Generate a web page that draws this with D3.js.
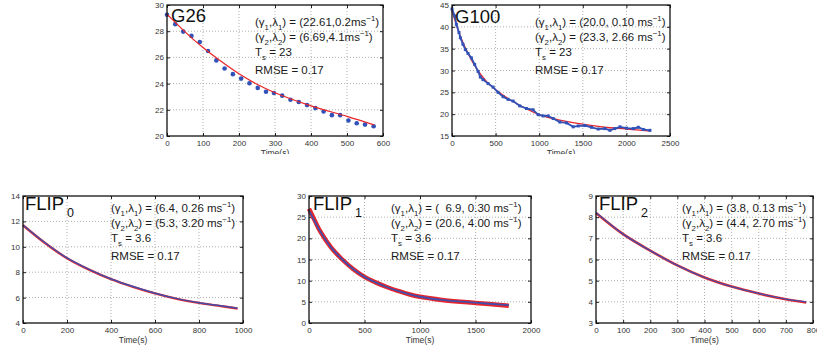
<!DOCTYPE html>
<html>
<head>
<meta charset="utf-8">
<script src="https://cdn.jsdelivr.net/npm/d3@7"></script>
<style>
  body { margin: 0; background: #fff; }
  svg text { font-family: "Liberation Sans", Arial, Helvetica, sans-serif; }
</style>
</head>
<body>
<svg id="chart" width="817" height="346"></svg>
<script>
// ---- data ----
const g26Time = [0, 23, 45, 68, 91, 114, 137, 160, 183, 206, 229, 252, 275, 297, 320, 343, 366, 389, 412, 435, 458, 481, 504, 527, 550, 574];
const g26Temp = [29.26, 28.54, 27.97, 27.64, 27.18, 26.49, 25.77, 25.15, 24.72, 24.38, 24.03, 23.67, 23.38, 23.28, 23.08, 22.77, 22.59, 22.36, 22.13, 21.87, 21.59, 21.59, 21.18, 20.97, 20.87, 20.74];
const g26FitTime = [0, 50, 100, 150, 200, 250, 300, 400, 500, 575];
const g26FitTemp = [29.3, 27.95, 26.75, 25.7, 24.75, 23.95, 23.3, 22.3, 21.5, 20.85];

const g100Time = [0, 31, 50, 80, 96, 126, 153, 184, 222, 260, 299, 325, 356, 414, 471, 528, 586, 643, 701, 777, 854, 930, 988, 1045, 1103, 1160, 1237, 1314, 1390, 1447, 1524, 1600, 1677, 1753, 1811, 1868, 1926, 2002, 2079, 2136, 2194, 2270];
const g100Temp = [44.1, 42.5, 40.6, 38.7, 37.5, 36.0, 34.8, 33.9, 32.9, 31.4, 29.8, 28.5, 27.9, 27.0, 26.2, 25.0, 24.0, 23.4, 23.0, 21.9, 21.3, 21.0, 19.9, 19.6, 19.6, 19.0, 18.2, 18.0, 17.1, 17.3, 17.4, 17.0, 16.6, 16.7, 16.3, 16.7, 17.1, 16.8, 16.7, 17.0, 16.5, 16.3];
const g100FitTime = [0, 100, 200, 300, 400, 500, 700, 1000, 1250, 1500, 1750, 2000, 2280];
const g100FitTemp = [43.7, 37.6, 33.3, 29.9, 27.4, 25.6, 22.9, 19.9, 18.6, 17.7, 17.0, 16.6, 16.1];

const flip0Time = [0, 100, 200, 300, 400, 500, 600, 700, 800, 900, 975];
const flip0Temp = [11.72, 10.32, 9.12, 8.22, 7.47, 6.87, 6.35, 5.92, 5.6, 5.35, 5.17];
const flip0Fit = [11.7, 10.3, 9.1, 8.2, 7.45, 6.85, 6.33, 5.9, 5.58, 5.33, 5.14];

const flip1Time = [0, 50, 100, 200, 300, 400, 500, 600, 700, 800, 900, 1000, 1200, 1500, 1800];
const flip1Temp = [26.6, 24.1, 21.7, 17.8, 15.0, 12.7, 10.9, 9.6, 8.5, 7.6, 6.8, 6.2, 5.45, 4.8, 4.2];
const flip1Fit = [27.0, 24.3, 21.7, 17.8, 15.0, 12.7, 10.9, 9.6, 8.5, 7.6, 6.8, 6.2, 5.45, 4.75, 4.05];

const flip2Time = [0, 100, 200, 300, 400, 500, 600, 700, 775];
const flip2Temp = [8.22, 7.2, 6.42, 5.72, 5.15, 4.72, 4.4, 4.13, 4.0];
const flip2Fit = [8.2, 7.2, 6.42, 5.72, 5.15, 4.72, 4.39, 4.12, 3.97];

const g26Ticks = { x: [0, 100, 200, 300, 400, 500, 600], y: [20, 22, 24, 26, 28, 30] };
const g100Ticks = { x: [0, 500, 1000, 1500, 2000, 2500], y: [15, 20, 25, 30, 35, 40, 45] };
const flip0Ticks = { x: [0, 200, 400, 600, 800, 1000], y: [4, 6, 8, 10, 12, 14] };
const flip1Ticks = { x: [0, 500, 1000, 1500, 2000], y: [0, 5, 10, 15, 20, 25, 30] };
const flip2Ticks = { x: [0, 100, 200, 300, 400, 500, 600, 700, 800], y: [3, 4, 5, 6, 7, 8, 9] };

// annotation lines: [gamma1 value, gamma2 value, Ts, RMSE]
const g26Notes = ["(22.61,0.2ms", "(6.69,4.1ms", "23", "0.17"];
const g100Notes = ["(20.0, 0.10 ms", "(23.3, 2.66 ms", "23", "0.17"];
const flip0Notes = ["(6.4, 0.26 ms", "(5.3, 3.20 ms", "3.6", "0.17"];
const flip1Notes = ["(  6.9, 0.30 ms", "(20.6, 4.00 ms", "3.6", "0.17"];
const flip2Notes = ["(3.8, 0.13 ms", "(4.4, 2.70 ms", "3.6", "0.17"];

const BLUE = "#3152b8";
const RED = "#e8252a";

const svg = d3.select("#chart");

svg.append("defs").append("clipPath").attr("id", "toprow")
  .append("rect").attr("x", 0).attr("y", 0).attr("width", 817).attr("height", 154);

// write text with sub/superscripts, parts = [[text, kind], ...]
function richText(g, x, y, size, parts) {
  const t = g.append("text").attr("x", x).attr("y", y)
    .attr("font-size", size).attr("fill", "#1a1a1a").attr("xml:space", "preserve");
  let off = 0;
  parts.forEach(([s, kind]) => {
    let target = 0, fs = size;
    if (kind === "sub") { target = size * 0.35; fs = size * 0.68; }
    if (kind === "sup") { target = -size * 0.45; fs = size * 0.68; }
    t.append("tspan").attr("dy", target - off).attr("font-size", fs).text(s);
    off = target;
  });
  return t;
}

function drawPanel(p) {
  const g = svg.append("g");
  const x = d3.scaleLinear().domain([p.ticks.x[0], p.ticks.x[p.ticks.x.length - 1]]).range([p.left, p.right]);
  const y = d3.scaleLinear().domain([p.ticks.y[0], p.ticks.y[p.ticks.y.length - 1]]).range([p.bottom, p.top]);

  g.append("rect").attr("x", p.left).attr("y", p.top)
    .attr("width", p.right - p.left).attr("height", p.bottom - p.top).attr("fill", "#fff");

  // dotted grid
  g.selectAll(".vg").data(p.ticks.x.slice(1, -1)).enter().append("line")
    .attr("x1", d => x(d)).attr("x2", d => x(d)).attr("y1", p.top).attr("y2", p.bottom)
    .attr("stroke", "#9a9a9a").attr("stroke-width", 0.8).attr("stroke-dasharray", "1,2");
  g.selectAll(".hg").data(p.ticks.y.slice(1, -1)).enter().append("line")
    .attr("y1", d => y(d)).attr("y2", d => y(d)).attr("x1", p.left).attr("x2", p.right)
    .attr("stroke", "#9a9a9a").attr("stroke-width", 0.8).attr("stroke-dasharray", "1,2");

  // axes, MATLAB style inward ticks
  const fmt = d3.format("d");
  const axes = [
    [d3.axisBottom(x).tickValues(p.ticks.x).tickFormat(fmt).tickSize(-3).tickPadding(4), `translate(0,${p.bottom})`],
    [d3.axisLeft(y).tickValues(p.ticks.y).tickFormat(fmt).tickSize(-3).tickPadding(3), `translate(${p.left},0)`],
    [d3.axisTop(x).tickValues(p.ticks.x).tickSize(-3).tickFormat(""), `translate(0,${p.top})`],
    [d3.axisRight(y).tickValues(p.ticks.y).tickSize(-3).tickFormat(""), `translate(${p.right},0)`]
  ];
  axes.forEach(([ax, tr]) => {
    const a = g.append("g").attr("transform", tr).call(ax);
    a.select(".domain").remove();
    a.selectAll("line").attr("stroke", "#222");
    a.selectAll("text").attr("font-size", 8).attr("fill", "#333")
      .style("font-family", '"Liberation Sans", Arial, sans-serif');
  });

  const line = d3.line().x(d => x(d[0])).y(d => y(d[1])).curve(d3.curveCatmullRom);

  // data and fits
  p.draw(g, x, y, line);

  g.append("rect").attr("x", p.left).attr("y", p.top)
    .attr("width", p.right - p.left).attr("height", p.bottom - p.top)
    .attr("fill", "none").attr("stroke", "#111").attr("stroke-width", 1.3);

  // x label
  const lab = g.append("text").attr("x", (p.left + p.right) / 2).attr("y", p.bottom + 20)
    .attr("text-anchor", "middle").attr("font-size", 8.5).attr("fill", "#333").text("Time(s)");
  if (p.clip) lab.attr("clip-path", "url(#toprow)");

  // panel name
  const tt = g.append("text").attr("x", p.title.x).attr("y", p.title.y)
    .attr("font-size", 18.5).attr("fill", "#111");
  tt.append("tspan").text(p.title.name);
  if (p.title.sub !== undefined) {
    tt.append("tspan").attr("dx", 3).attr("dy", 7).attr("font-size", 12.5).text(p.title.sub);
  }

  // annotations
  const n = p.notes, ax0 = p.note.x, b = p.note.y;
  richText(g, ax0, b, 11.5, [["(γ"], ["1", "sub"], [",λ"], ["1", "sub"], [") = " + n[0]], ["−1", "sup"], [")"]]);
  richText(g, ax0, b + 15, 11.5, [["(γ"], ["2", "sub"], [",λ"], ["2", "sub"], [") = " + n[1]], ["−1", "sup"], [")"]]);
  richText(g, ax0, b + 30, 11.5, [["T"], ["s", "sub"], [" = " + n[2]]]);
  richText(g, ax0, b + 48, 11.5, [["RMSE = " + n[3]]]);
}

const zip = (a, b) => a.map((v, i) => [v, b[i]]);

drawPanel({
  left: 167, right: 383, top: 5, bottom: 136, ticks: g26Ticks, clip: true,
  title: { name: "G26", x: 171, y: 22 }, notes: g26Notes, note: { x: 255, y: 26 },
  draw: (g, x, y, line) => {
    g.selectAll(".dot").data(zip(g26Time, g26Temp)).enter().append("circle")
      .attr("cx", d => x(d[0])).attr("cy", d => y(d[1])).attr("r", 2.3).attr("fill", BLUE);
    g.append("path").datum(zip(g26FitTime, g26FitTemp)).attr("d", line)
      .attr("fill", "none").attr("stroke", RED).attr("stroke-width", 1.2);
  }
});

drawPanel({
  left: 452, right: 670, top: 5, bottom: 136, ticks: g100Ticks, clip: true,
  title: { name: "G100", x: 455, y: 23 }, notes: g100Notes, note: { x: 535, y: 26 },
  draw: (g, x, y, line) => {
    g.append("path").datum(zip(g100FitTime, g100FitTemp)).attr("d", line)
      .attr("fill", "none").attr("stroke", RED).attr("stroke-width", 1.3);
    g.append("path").datum(zip(g100Time, g100Temp)).attr("d", d3.line().x(d => x(d[0])).y(d => y(d[1])))
      .attr("fill", "none").attr("stroke", BLUE).attr("stroke-width", 1.8);
    g.selectAll(".sq").data(zip(g100Time, g100Temp)).enter().append("rect")
      .attr("x", d => x(d[0]) - 1.5).attr("y", d => y(d[1]) - 1.5)
      .attr("width", 3).attr("height", 3).attr("fill", BLUE);
  }
});

function flipDraw(time, data, fit, redW, blueW) {
  return (g, x, y, line) => {
    g.append("path").datum(zip(time, fit)).attr("d", line)
      .attr("fill", "none").attr("stroke", RED).attr("stroke-width", redW);
    g.append("path").datum(zip(time, data)).attr("d", line)
      .attr("fill", "none").attr("stroke", BLUE).attr("stroke-width", blueW).attr("stroke-opacity", 0.9);
  };
}

drawPanel({
  left: 23, right: 243, top: 196, bottom: 323, ticks: flip0Ticks,
  title: { name: "FLIP", sub: "0", x: 25, y: 210 }, notes: flip0Notes, note: { x: 111, y: 212 },
  draw: flipDraw(flip0Time, flip0Temp, flip0Fit, 2.4, 1.5)
});

drawPanel({
  left: 309, right: 531, top: 196, bottom: 323, ticks: flip1Ticks,
  title: { name: "FLIP", sub: "1", x: 313, y: 210 }, notes: flip1Notes, note: { x: 391, y: 212 },
  draw: flipDraw(flip1Time, flip1Temp, flip1Fit, 4.5, 1.8)
});

drawPanel({
  left: 596, right: 813, top: 196, bottom: 323, ticks: flip2Ticks,
  title: { name: "FLIP", sub: "2", x: 599, y: 210 }, notes: flip2Notes, note: { x: 682, y: 212 },
  draw: flipDraw(flip2Time, flip2Temp, flip2Fit, 2.6, 1.3)
});
</script>
</body>
</html>
